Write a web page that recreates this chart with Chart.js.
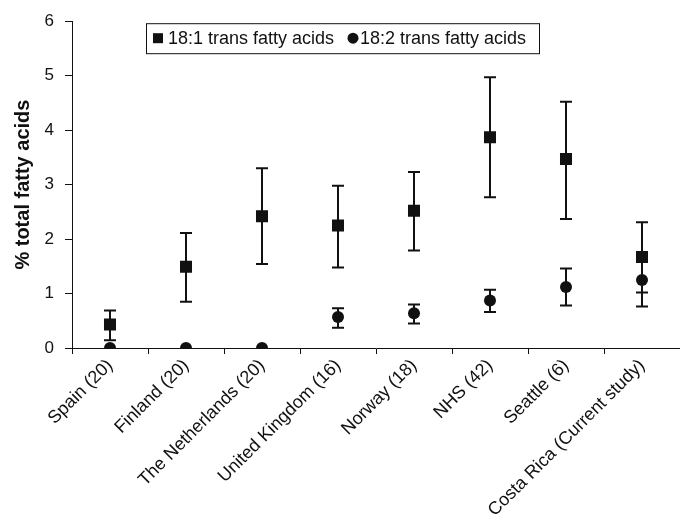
<!DOCTYPE html>
<html>
<head>
<meta charset="utf-8">
<script src="https://cdn.jsdelivr.net/npm/chart.js@4.4.0/dist/chart.umd.min.js"></script>
<style>
  html, body { margin: 0; padding: 0; background: #fff; }
  #wrap { width: 680px; height: 523px; position: relative; }
</style>
</head>
<body>
<div id="wrap"><canvas id="myChart" width="680" height="523"></canvas></div>
<script>
const categories = ['Spain (20)', 'Finland (20)', 'The Netherlands (20)', 'United Kingdom (16)',
  'Norway (18)', 'NHS (42)', 'Seattle (6)', 'Costa Rica (Current study)'];

// 18:1 trans fatty acids, mean and error bar ends
const trans181 = [0.43, 1.49, 2.42, 2.25, 2.52, 3.87, 3.47, 1.67];
const trans181Low = [0.14, 0.85, 1.54, 1.48, 1.79, 2.77, 2.37, 1.02];
const trans181High = [0.69, 2.11, 3.30, 2.98, 3.23, 4.97, 4.52, 2.31];

// 18:2 trans fatty acids
const trans182 = [0, 0, 0, 0.57, 0.64, 0.87, 1.12, 1.25];
const trans182Low = [null, null, null, 0.37, 0.45, 0.66, 0.78, 0.76];
const trans182High = [null, null, null, 0.73, 0.80, 1.07, 1.46, 1.62];

const yTicks = [0, 1, 2, 3, 4, 5, 6];

const ink = '#111';
const font = "'Liberation Sans', Arial, Helvetica, sans-serif";

// error bars, drawn under the markers
const errorBars = {
  id: 'errorBars',
  beforeDatasetsDraw(chart) {
    const ctx = chart.ctx;
    const y = chart.scales.y;
    const sets = [[trans181Low, trans181High], [trans182Low, trans182High]];
    ctx.save();
    ctx.strokeStyle = ink;
    ctx.lineWidth = 2;
    sets.forEach((pair, di) => {
      const meta = chart.getDatasetMeta(di);
      meta.data.forEach((pt, i) => {
        const lo = pair[0][i], hi = pair[1][i];
        if (lo == null || hi == null) return;
        const yl = y.getPixelForValue(lo), yh = y.getPixelForValue(hi);
        ctx.beginPath();
        ctx.moveTo(pt.x, yl); ctx.lineTo(pt.x, yh);
        ctx.moveTo(pt.x - 6, yl); ctx.lineTo(pt.x + 6, yl);
        ctx.moveTo(pt.x - 6, yh); ctx.lineTo(pt.x + 6, yh);
        ctx.stroke();
      });
    });
    ctx.restore();
  }
};

// boxed legend inside the plot
const boxLegend = {
  id: 'boxLegend',
  afterDraw(chart) {
    const ctx = chart.ctx;
    const a = chart.chartArea;
    const x0 = a.left + 74, y0 = a.top + 2, w = 393, h = 30;
    ctx.save();
    ctx.fillStyle = '#fff';
    ctx.fillRect(x0, y0, w, h);
    ctx.strokeStyle = ink;
    ctx.lineWidth = 1;
    ctx.strokeRect(x0 + 0.5, y0 + 0.5, w, h);
    const cy = y0 + h / 2;
    ctx.fillStyle = ink;
    ctx.fillRect(x0 + 7, cy - 5, 10, 10);
    ctx.beginPath();
    ctx.arc(x0 + 207, cy, 5.5, 0, Math.PI * 2);
    ctx.fill();
    ctx.font = '18px ' + font;
    ctx.textBaseline = 'middle';
    ctx.fillText(chart.data.datasets[0].label, x0 + 22, cy + 1);
    ctx.fillText(chart.data.datasets[1].label, x0 + 214, cy + 1);
    ctx.restore();
  }
};

const ctx = document.getElementById('myChart').getContext('2d');
const myChart = new Chart(ctx, {
  type: 'line',
  data: {
    labels: categories,
    datasets: [{
      label: '18:1 trans fatty acids',
      data: trans181,
      showLine: false,
      pointStyle: 'rect',
      pointRadius: 8.5,
      backgroundColor: ink,
      borderColor: ink,
      borderWidth: 0
    }, {
      label: '18:2 trans fatty acids',
      data: trans182,
      showLine: false,
      pointStyle: 'circle',
      pointRadius: 6,
      backgroundColor: ink,
      borderColor: ink,
      borderWidth: 0
    }]
  },
  options: {
    responsive: false,
    animation: false,
    events: [],
    layout: { autoPadding: false, padding: { top: 21, right: 0, left: 0, bottom: 0 } },
    plugins: {
      legend: { display: false },
      tooltip: { enabled: false }
    },
    scales: {
      x: {
        offset: true,
        grid: { display: true, drawOnChartArea: false, offset: true, tickLength: 6, color: ink },
        border: { display: true, color: ink, width: 1 },
        ticks: {
          color: ink,
          font: { family: font, size: 18 },
          minRotation: 45,
          maxRotation: 45,
          padding: 1
        },
        afterFit(scale) {
          scale.height = 175;
          scale.paddingLeft = 0;
          scale.paddingRight = 0;
        }
      },
      y: {
        min: 0,
        max: 6,
        afterBuildTicks(scale) { scale.ticks = yTicks.map(v => ({ value: v })); },
        grid: { display: true, drawOnChartArea: false, tickLength: 7, color: ink },
        border: { display: true, color: ink, width: 1 },
        ticks: {
          color: ink,
          font: { family: font, size: 17 },
          padding: 11
        },
        title: {
          display: true,
          text: '% total fatty acids',
          color: ink,
          font: { family: font, size: 20, weight: 'bold' },
          padding: { top: 11, bottom: 0 }
        },
        afterFit(scale) { scale.width = 72; }
      }
    }
  },
  plugins: [errorBars, boxLegend]
});
</script>
</body>
</html>
